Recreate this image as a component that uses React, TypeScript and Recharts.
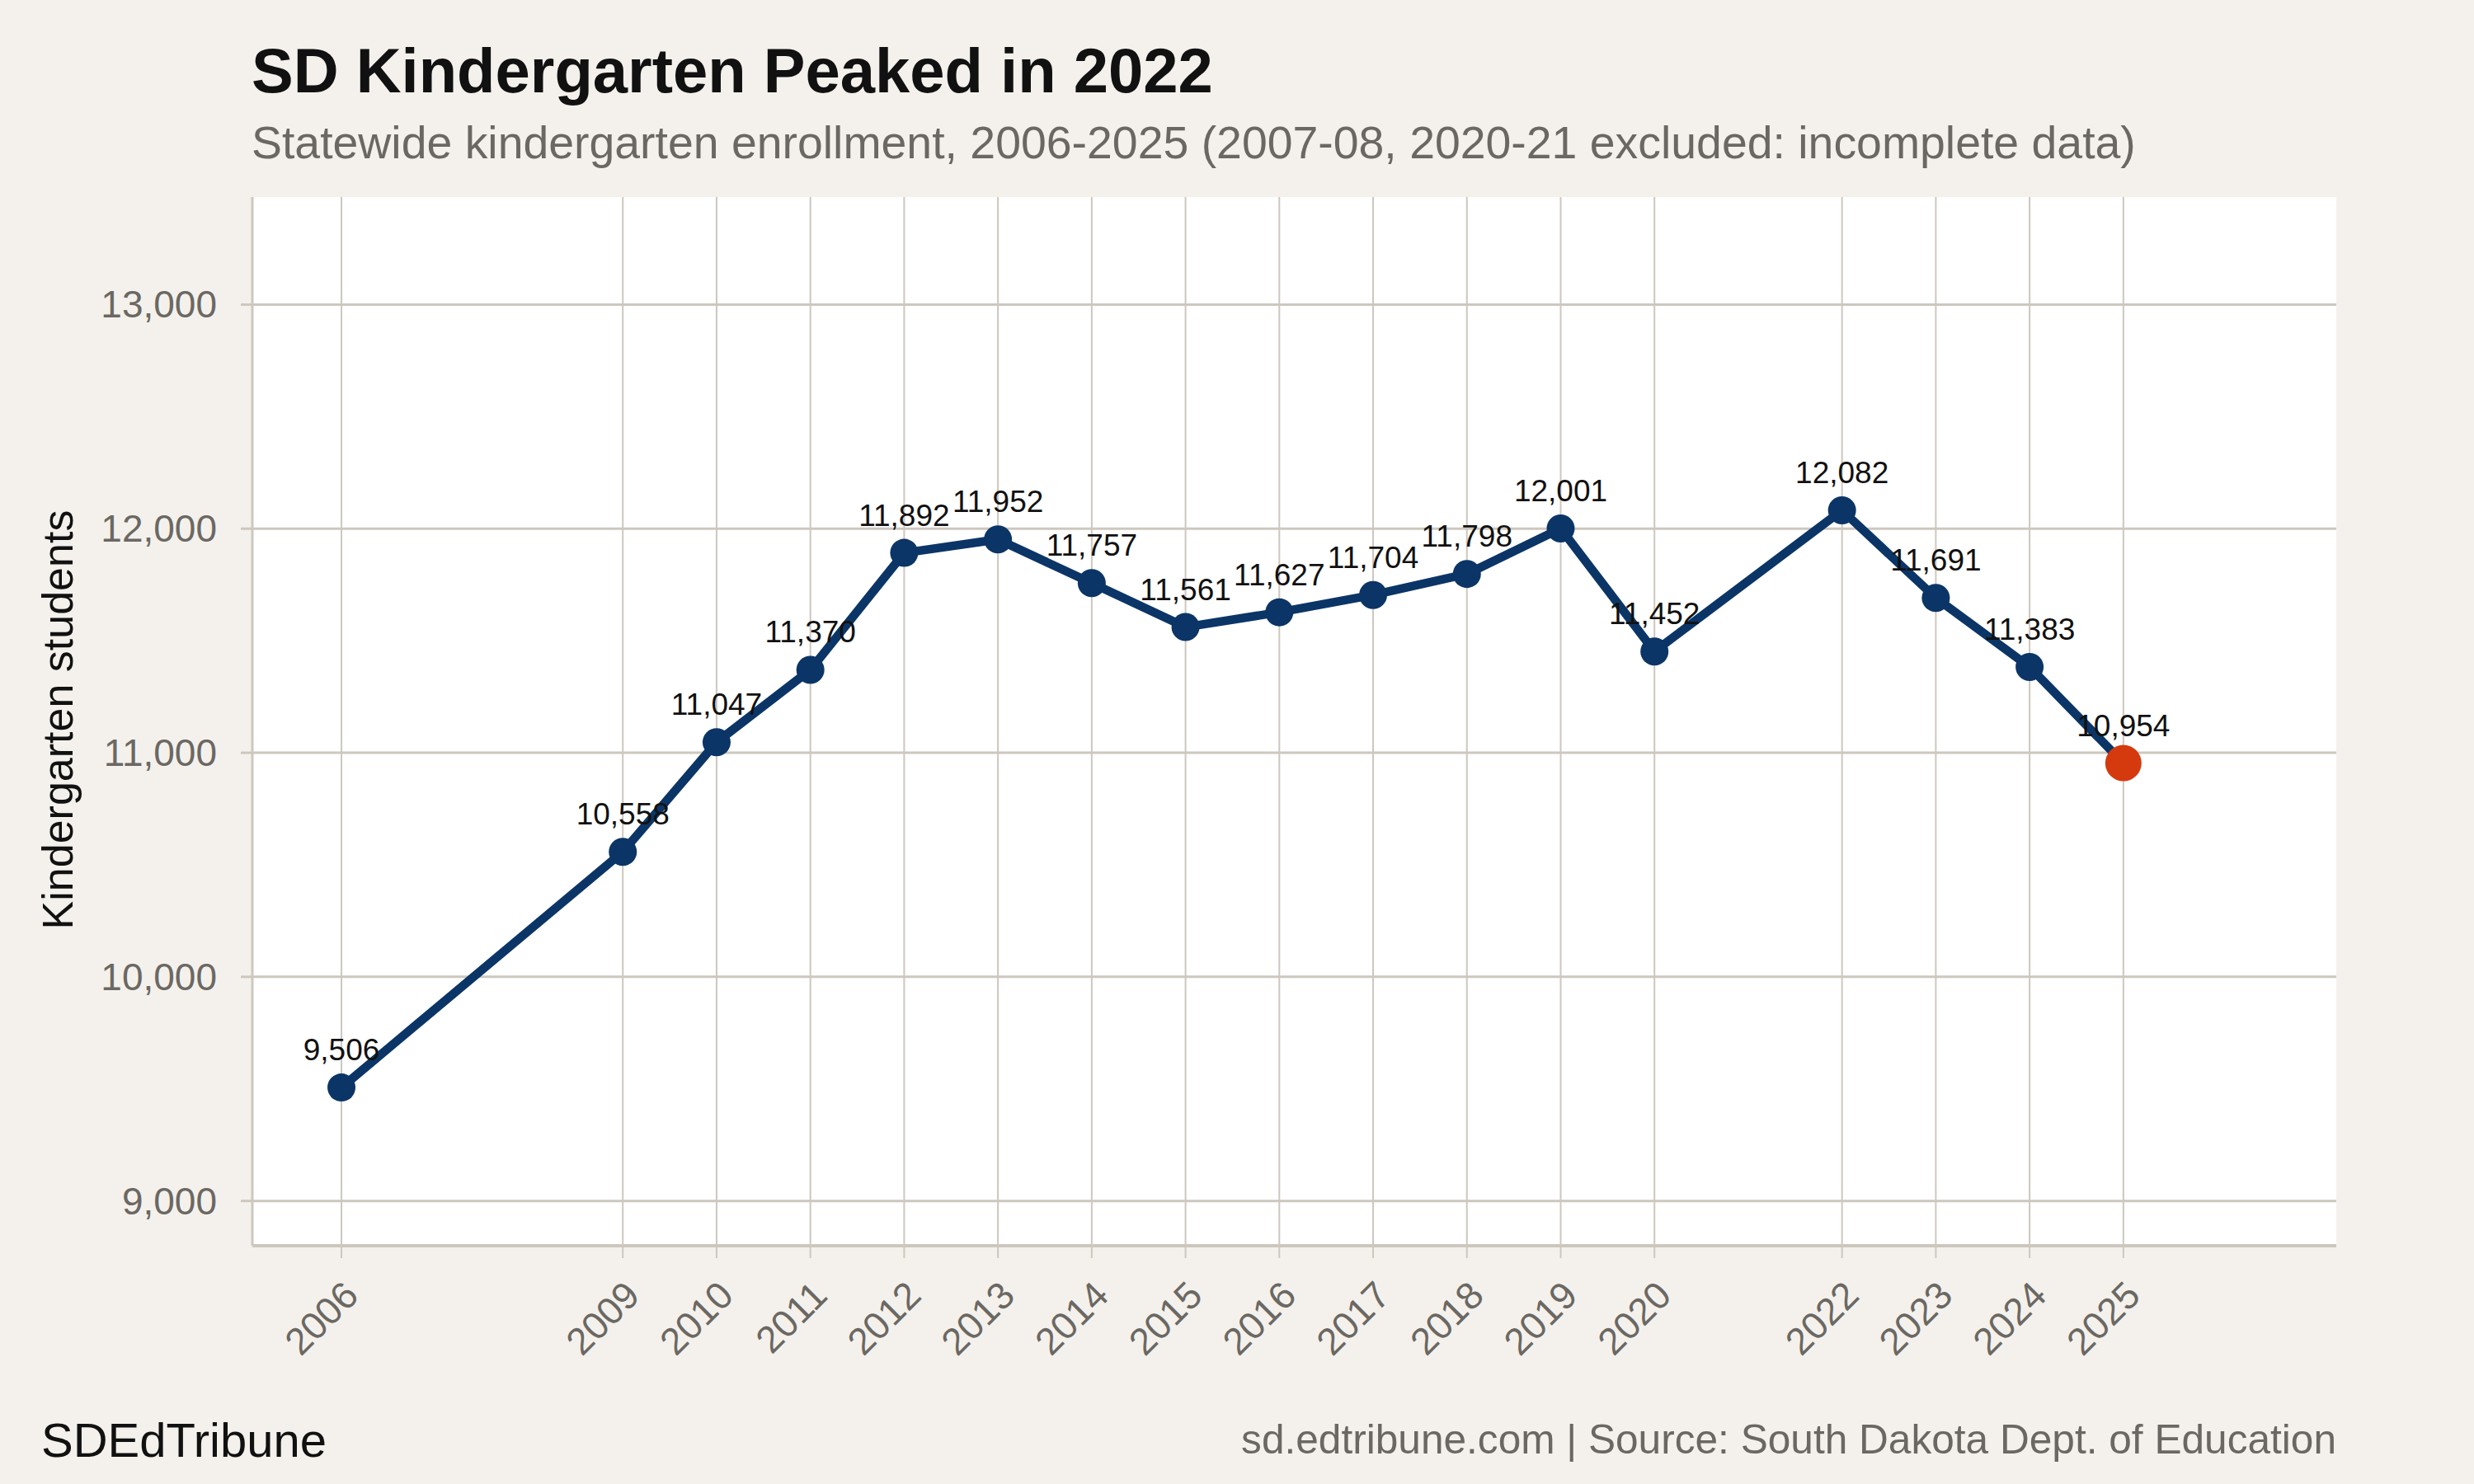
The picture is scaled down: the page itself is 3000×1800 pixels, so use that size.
import React from 'react';
import { LineChart, Line, XAxis, YAxis, CartesianGrid } from 'recharts';

const years = [2006, 2009, 2010, 2011, 2012, 2013, 2014, 2015, 2016, 2017, 2018, 2019, 2020, 2022, 2023, 2024, 2025];
const enrollment = [9506, 10558, 11047, 11370, 11892, 11952, 11757, 11561, 11627, 11704, 11798, 12001, 11452, 12082, 11691, 11383, 10954];
const yTicks = [9000, 10000, 11000, 12000, 13000];
const highlightYear = 2025;

const titleText = 'SD Kindergarten Peaked in 2022';
const subtitleText = 'Statewide kindergarten enrollment, 2006-2025 (2007-08, 2020-21 excluded: incomplete data)';
const yAxisTitle = 'Kindergarten students';
const brandText = 'SDEdTribune';
const captionText = 'sd.edtribune.com | Source: South Dakota Dept. of Education';

const data = years.map((year, i) => ({ year, value: enrollment[i] }));

const FONT = '"Liberation Sans", Arial, Helvetica, sans-serif';
const NAVY = '#0b3566';
const ORANGE = '#d43a0e';
const BG = '#f4f1ec';
const GRID = '#cdc7be';
const GREY_TEXT = '#6b6863';

const fmt = (v: number) => v.toLocaleString('en-US');

const renderDot = (props: any) => {
  const { cx, cy, payload, index } = props;
  const hl = payload && payload.year === highlightYear;
  return <circle key={`dot-${index}`} cx={cx} cy={cy} r={hl ? 22 : 17} fill={hl ? ORANGE : NAVY} stroke="none" />;
};

const renderLabel = (props: any) => {
  const { x, y, value, index } = props;
  return (
    <text key={`lab-${index}`} x={x} y={y - 33} textAnchor="middle" fontSize={37} fill="#111" fontFamily={FONT}>
      {fmt(value)}
    </text>
  );
};

const XTick = (props: any) => {
  const { x, y, payload } = props;
  const bx = x + 23;
  const by = y + 48;
  return (
    <text x={bx} y={by} transform={`rotate(-45 ${bx} ${by})`} textAnchor="end" fontSize={46} fill={GREY_TEXT} fontFamily={FONT}>
      {payload.value}
    </text>
  );
};

const YTick = (props: any) => {
  const { x, y, payload } = props;
  return (
    <text x={x} y={y + 16} textAnchor="end" fontSize={46} fill={GREY_TEXT} fontFamily={FONT}>
      {fmt(payload.value)}
    </text>
  );
};

export default function App() {
  return (
    <div style={{ position: 'absolute', left: 0, top: 0, width: 3000, height: 1800, background: BG, fontFamily: FONT }}>
      <LineChart
        width={3000}
        height={1800}
        data={data}
        margin={{ top: 239, right: 167, bottom: 139, left: 106 }}
      >
        <CartesianGrid horizontal={true} vertical={false} syncWithTicks fill="#ffffff" stroke={GRID} strokeWidth={3} />
        <CartesianGrid horizontal={false} vertical={true} syncWithTicks stroke={GRID} strokeWidth={2} />
        <XAxis
          type="number"
          dataKey="year"
          domain={[2005.05, 2027.27]}
          ticks={years}
          interval={0}
          allowDataOverflow
          height={150}
          tickSize={15}
          tickMargin={0}
          tick={<XTick />}
          axisLine={{ stroke: GRID, strokeWidth: 4 }}
          tickLine={{ stroke: GRID, strokeWidth: 2 }}
        />
        <YAxis
          type="number"
          domain={[8800, 13480]}
          ticks={yTicks}
          interval={0}
          allowDataOverflow
          width={200}
          tickSize={14}
          tickMargin={29}
          tick={<YTick />}
          axisLine={{ stroke: GRID, strokeWidth: 3 }}
          tickLine={{ stroke: GRID, strokeWidth: 3 }}
        />
        <Line
          dataKey="value"
          stroke="none"
          strokeWidth={0}
          dot={false}
          activeDot={false}
          label={renderLabel}
          isAnimationActive={false}
        />
        <Line
          dataKey="value"
          stroke={NAVY}
          strokeWidth={10.5}
          strokeLinejoin="round"
          strokeLinecap="round"
          dot={renderDot}
          activeDot={false}
          isAnimationActive={false}
        />
      </LineChart>
      <svg width={3000} height={1800} style={{ position: 'absolute', left: 0, top: 0, pointerEvents: 'none' }}>
        <text x={305} y={112} fontSize={76} fontWeight="bold" fill="#111" fontFamily={FONT}>{titleText}</text>
        <text x={305} y={192} fontSize={55.4} fill={GREY_TEXT} fontFamily={FONT}>{subtitleText}</text>
        <text x={88} y={873} transform="rotate(-90 88 873)" textAnchor="middle" fontSize={52} fill="#111" fontFamily={FONT}>{yAxisTitle}</text>
        <text x={50} y={1767} fontSize={58} fill="#111" fontFamily={FONT}>{brandText}</text>
        <text x={2833} y={1763} textAnchor="end" fontSize={49.6} fill={GREY_TEXT} fontFamily={FONT}>{captionText}</text>
      </svg>
    </div>
  );
}
